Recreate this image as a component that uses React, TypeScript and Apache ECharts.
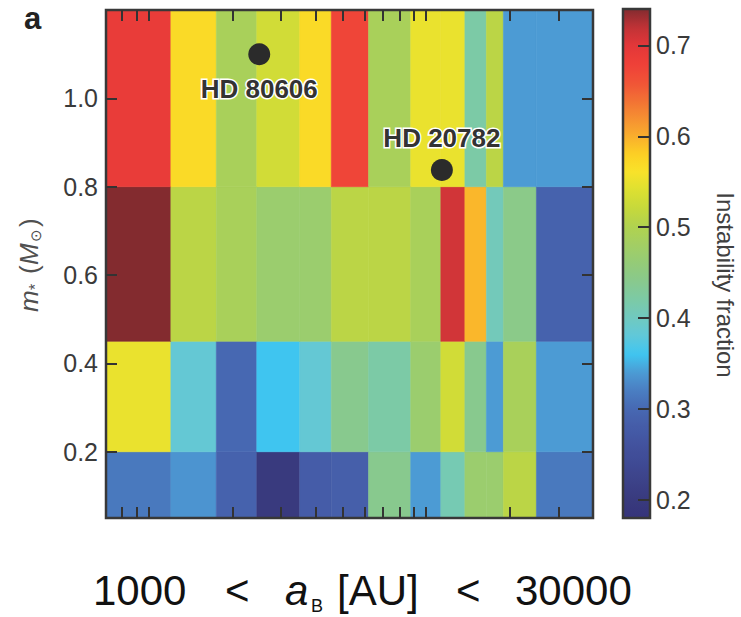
import React, { useEffect, useRef } from "react";
import * as echarts from "echarts";

// Binary separation bin edges (AU) and stellar mass bin edges (solar masses)
const sepEdges = [700, 1200, 1750, 2450, 3500, 4550, 6200, 8800, 11300, 13800, 16500, 19000, 25000, 40000];
const massEdges = [0.05, 0.2, 0.45, 0.8, 1.2];

// Instability fraction per separation bin, one array per mass row (low to high mass)
const fracMass005 = [0.315, 0.335, 0.29, 0.2, 0.28, 0.285, 0.44, 0.34, 0.41, 0.47, 0.47, 0.51, 0.315];
const fracMass020 = [0.55, 0.385, 0.3, 0.36, 0.385, 0.44, 0.42, 0.47, 0.53, 0.44, 0.34, 0.49, 0.34];
const fracMass045 = [0.74, 0.51, 0.49, 0.47, 0.47, 0.51, 0.51, 0.49, 0.71, 0.595, 0.405, 0.445, 0.29];
const fracMass080 = [0.69, 0.57, 0.49, 0.53, 0.57, 0.675, 0.49, 0.55, 0.55, 0.42, 0.51, 0.34, 0.34];
const fracRows = [fracMass005, fracMass020, fracMass045, fracMass080];

// Known systems
const starNames = ["HD 80606", "HD 20782"];
const starSep = [2500, 11400];
const starMass = [1.1, 0.838];

// Tick values
const sepTicks = [800, 900, 1000, 2000, 3000, 4000, 5000, 6000, 7000, 8000, 9000, 10000, 20000, 30000];
const massTicks = [0.2, 0.4, 0.6, 0.8, 1.0];
const fracTicks = [0.2, 0.3, 0.4, 0.5, 0.6, 0.7];
const fracMin = 0.18;
const fracMax = 0.74;

// Colour scale, evenly spaced from fracMin to fracMax
const colorScale = [
  "#35337a", "#393a7e", "#3c4288", "#3f4a94", "#42529e", "#455ca8", "#4768b2", "#4a7ec2",
  "#4c9bd4", "#3fc5f0", "#60c8da", "#70c9c0", "#7ccaa6", "#88c98e", "#94cb78", "#a2ce64",
  "#b0d250", "#c5d83c", "#dce031", "#f8e32a", "#fdd024", "#f9ae2d", "#f58f32", "#f27034",
  "#f05237", "#ef4038", "#e23739", "#c03236", "#832b2f",
];

const FONT = "'Liberation Sans', Arial, Helvetica, sans-serif";

export default function App() {
  const ref = useRef<HTMLDivElement>(null);

  useEffect(() => {
    if (!ref.current) return;
    const chart = echarts.init(ref.current, null, { renderer: "svg" });

    const cells: number[][] = [];
    fracRows.forEach((row, r) => {
      row.forEach((v, c) => {
        cells.push([sepEdges[c], sepEdges[c + 1], massEdges[r], massEdges[r + 1], v]);
      });
    });

    const tickStyle = { color: "#333", width: 2 };

    const sepAxis = (position: string) => ({
      type: "log",
      logBase: 10,
      gridIndex: 0,
      position,
      min: sepEdges[0],
      max: sepEdges[sepEdges.length - 1],
      axisLine: { show: false, onZero: false },
      axisTick: { show: true, inside: true, length: 11, customValues: sepTicks, lineStyle: tickStyle },
      axisLabel: { show: false },
      splitLine: { show: false },
      z: 10,
    });

    const massAxis = (position: string, labels: boolean) => ({
      type: "value",
      gridIndex: 0,
      position,
      min: massEdges[0],
      max: massEdges[massEdges.length - 1],
      axisLine: { show: false, onZero: false },
      axisTick: { show: true, inside: true, length: 11, customValues: massTicks, lineStyle: tickStyle },
      axisLabel: {
        show: labels,
        customValues: massTicks,
        formatter: (v: number) => v.toFixed(1),
        fontSize: 25,
        color: "#3a3a3a",
        fontFamily: FONT,
        margin: 8,
      },
      splitLine: { show: false },
      z: 10,
    });

    chart.setOption({
      animation: false,
      grid: [
        {
          left: 106, top: 10, width: 487, height: 508,
          show: true, borderColor: "#383838", borderWidth: 2.5,
          backgroundColor: "rgba(0,0,0,0)", z: 10, outerBoundsMode: "none",
        },
        {
          left: 623, top: 9, width: 27, height: 509,
          show: true, borderColor: "#383838", borderWidth: 2.5,
          backgroundColor: "rgba(0,0,0,0)", z: 10, outerBoundsMode: "none",
        },
      ],
      xAxis: [
        sepAxis("bottom"),
        sepAxis("top"),
        { type: "value", gridIndex: 1, show: false, min: 0, max: 1 },
      ],
      yAxis: [
        massAxis("left", true),
        massAxis("right", false),
        {
          type: "value",
          gridIndex: 1,
          position: "right",
          min: fracMin,
          max: fracMax,
          axisLine: { show: false, onZero: false },
          axisTick: { show: true, inside: true, length: 12, customValues: fracTicks, lineStyle: tickStyle },
          axisLabel: {
            customValues: fracTicks,
            formatter: (v: number) => v.toFixed(1),
            fontSize: 25,
            color: "#3a3a3a",
            fontFamily: FONT,
            margin: 6,
          },
          splitLine: { show: false },
          z: 10,
        },
      ],
      visualMap: {
        type: "continuous",
        min: fracMin,
        max: fracMax,
        left: 623,
        top: 9,
        itemWidth: 27,
        itemHeight: 509,
        padding: 0,
        calculable: false,
        hoverLink: false,
        seriesIndex: 0,
        dimension: 4,
        inRange: { color: colorScale },
      },
      series: [
        {
          type: "custom",
          xAxisIndex: 0,
          yAxisIndex: 0,
          data: cells,
          encode: { x: [0, 1], y: [2, 3] },
          clip: true,
          renderItem: (_params: any, api: any) => {
            const p0 = api.coord([api.value(0), api.value(3)]);
            const p1 = api.coord([api.value(1), api.value(2)]);
            const color = api.visual("color");
            return {
              type: "rect",
              shape: { x: p0[0], y: p0[1], width: p1[0] - p0[0], height: p1[1] - p0[1] },
              style: { fill: color, stroke: color, lineWidth: 0.6 },
            };
          },
        },
        {
          type: "scatter",
          xAxisIndex: 0,
          yAxisIndex: 0,
          symbol: "circle",
          symbolSize: 22,
          itemStyle: { color: "#2b2b2b", opacity: 1 },
          z: 12,
          label: {
            show: true,
            formatter: "{b}",
            fontSize: 26,
            lineHeight: 26,
            fontWeight: "bold",
            color: "#333333",
            fontFamily: FONT,
            textBorderColor: "#ffffff",
            textBorderWidth: 3,
          },
          data: starNames.map((name, i) => ({
            name,
            value: [starSep[i], starMass[i]],
            label: i === 0 ? { position: "bottom", distance: 11 } : { position: "top", distance: 8 },
          })),
        },
      ],
      graphic: [
        {
          type: "text",
          left: 24,
          top: 3,
          style: { text: "a", font: `bold 31px ${FONT}`, fill: "#222" },
        },
        {
          type: "group",
          x: 29,
          y: 262,
          rotation: Math.PI / 2,
          children: [
            { type: "text", x: -50, y: 0, style: { text: "m", font: `italic 26px ${FONT}`, fill: "#505050", verticalAlign: "middle" } },
            { type: "text", x: -28, y: 6, style: { text: "*", font: `16px ${FONT}`, fill: "#505050", verticalAlign: "middle" } },
            { type: "text", x: -12, y: 0, style: { text: "(", font: `26px ${FONT}`, fill: "#505050", verticalAlign: "middle" } },
            { type: "text", x: -3, y: 0, style: { text: "M", font: `italic 26px ${FONT}`, fill: "#505050", verticalAlign: "middle" } },
            { type: "text", x: 20, y: 6, style: { text: "⊙", font: `15px ${FONT}`, fill: "#505050", verticalAlign: "middle" } },
            { type: "text", x: 35, y: 0, style: { text: ")", font: `26px ${FONT}`, fill: "#505050", verticalAlign: "middle" } },
          ],
        },
        {
          type: "text",
          x: 725,
          y: 285,
          rotation: -Math.PI / 2,
          style: {
            text: "Instability fraction",
            font: `24px ${FONT}`,
            fill: "#404040",
            align: "center",
            verticalAlign: "middle",
          },
        },
        { type: "text", x: 93, y: 590, style: { text: "1000", font: `42px ${FONT}`, fill: "#111", verticalAlign: "middle" } },
        { type: "text", x: 225, y: 590, style: { text: "<", font: `42px ${FONT}`, fill: "#111", verticalAlign: "middle" } },
        { type: "text", x: 285, y: 590, style: { text: "a", font: `italic 42px ${FONT}`, fill: "#111", verticalAlign: "middle" } },
        { type: "text", x: 311, y: 606, style: { text: "B", font: `18px ${FONT}`, fill: "#111", verticalAlign: "middle" } },
        { type: "text", x: 337, y: 590, style: { text: "[AU]", font: `42px ${FONT}`, fill: "#111", verticalAlign: "middle" } },
        { type: "text", x: 456, y: 590, style: { text: "<", font: `42px ${FONT}`, fill: "#111", verticalAlign: "middle" } },
        { type: "text", x: 515, y: 590, style: { text: "30000", font: `42px ${FONT}`, fill: "#111", verticalAlign: "middle" } },
      ],
    });

    return () => chart.dispose();
  }, []);

  return (
    <div
      ref={ref}
      style={{ position: "absolute", left: 0, top: 0, width: 741, height: 617, background: "#fff" }}
    />
  );
}
